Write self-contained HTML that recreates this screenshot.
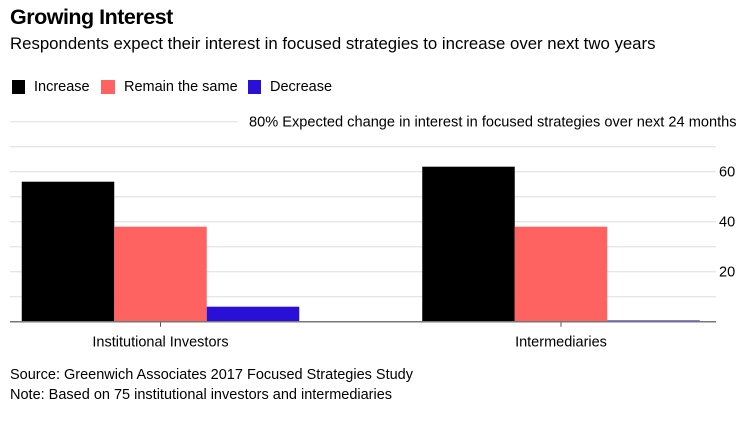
<!DOCTYPE html>
<html><head><meta charset="utf-8">
<style>
body{margin:0;background:#fff;width:755px;height:423px;overflow:hidden;font-family:"Liberation Sans",sans-serif;color:#000}
.t{position:absolute;white-space:nowrap}
</style></head><body>
<div class="t" style="left:10px;top:5px;font-size:21.5px;font-weight:bold;letter-spacing:-0.5px">Growing Interest</div>
<div class="t" style="left:10px;top:34px;font-size:16.8px">Respondents expect their interest in focused strategies to increase over next two years</div>
<div>
<div class="t" style="left:12px;top:80px;width:13px;height:14px;background:#000"></div>
<div class="t" style="left:34px;top:79px;font-size:14.5px">Increase</div>
<div class="t" style="left:101px;top:80px;width:14px;height:14px;background:#ff6361"></div>
<div class="t" style="left:124px;top:79px;font-size:14.5px">Remain the same</div>
<div class="t" style="left:248px;top:80px;width:13px;height:14px;background:#2a0fd6"></div>
<div class="t" style="left:270px;top:79px;font-size:14.5px">Decrease</div>
</div>
<svg id="chart" width="755" height="423" style="position:absolute;left:0;top:0" font-family="Liberation Sans, sans-serif"></svg>
<div class="t" style="left:10px;top:367px;font-size:14.5px">Source: Greenwich Associates 2017 Focused Strategies Study</div>
<div class="t" style="left:10px;top:387px;font-size:14.5px">Note: Based on 75 institutional investors and intermediaries</div>
<script>
const categories=["Institutional Investors","Intermediaries"];
const increase=[56,62];
const remainSame=[38,38];
const decrease=[6,0.5];
const gridValues=[10,20,30,40,50,60,70,80];
const tickLabels=[20,40,60];
const svg=document.getElementById('chart');
const NS='http://www.w3.org/2000/svg';
const y0=321.7, pxPer=2.5;
const y=v=>y0-v*pxPer;
const centers=[160.5,561], bw=92.5;
function mk(tag,attrs){const e=document.createElementNS(NS,tag);for(const k in attrs)e.setAttribute(k,attrs[k]);svg.appendChild(e);return e;}
gridValues.forEach(v=>{
  const x2=v===80?238:716;
  const g=mk('line',{x1:10,x2:x2,y1:y(v),y2:y(v),stroke:'#e6e6e6','stroke-width':1.3});
  
  
});
tickLabels.forEach(v=>{
  const t=mk('text',{x:719,y:y(v)+5,'font-size':14.5});
  t.textContent=v;
  
  
});
const at=mk('text',{x:249,y:y(80)+5,'font-size':14.6});
at.textContent='80% Expected change in interest in focused strategies over next 24 months';


const series=[[increase,'#000'],[remainSame,'#ff6361'],[decrease,'#2a0fd6']];
categories.forEach((c,ci)=>{
  series.forEach(([vals,col],si)=>{
    const x=centers[ci]+(si-1.5)*bw;
    const h=vals[ci]*pxPer;
    const r=mk('rect',{x:x,y:y0-h,width:bw,height:h,fill:col});
    
    
  });
  const tk=mk('line',{x1:centers[ci],x2:centers[ci],y1:y0,y2:y0+5,stroke:'#555'});
  
  
  const lb=mk('text',{x:centers[ci],y:y0+25,'font-size':14.5,'text-anchor':'middle'});
  lb.textContent=c;
  
  
});
const base=mk('line',{x1:10,x2:716,y1:y0,y2:y0,stroke:'#777','stroke-width':1.5});


</script>
</body></html>
